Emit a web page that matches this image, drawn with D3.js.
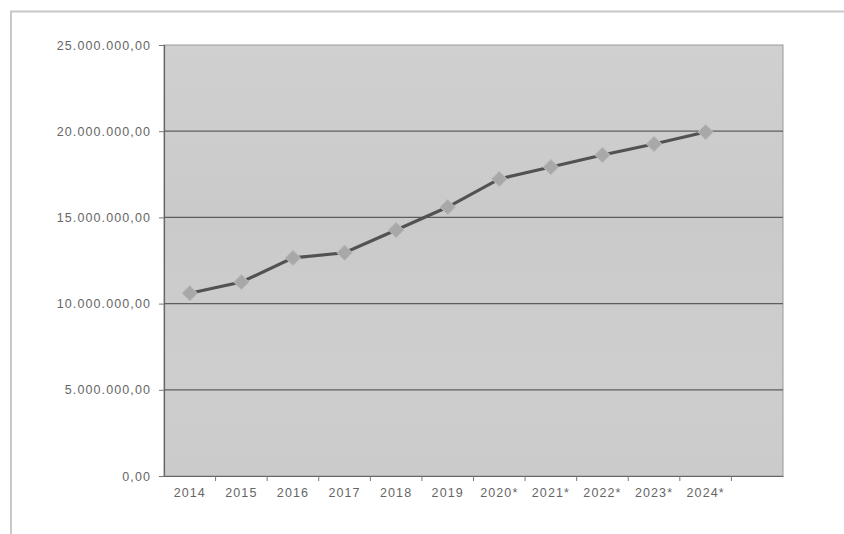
<!DOCTYPE html>
<html>
<head>
<meta charset="utf-8">
<script src="https://cdn.jsdelivr.net/npm/d3@7"></script>
<style>
  body { margin: 0; background: #fff; }
  svg { display: block; }
  .tick text { font-family: Arial, "Liberation Sans", sans-serif; font-size: 12.5px; letter-spacing: 1.1px; fill: #666; }
</style>
</head>
<body>
<svg id="chart" width="844" height="534"></svg>
<script>
const years = ['2014', '2015', '2016', '2017', '2018', '2019', '2020*', '2021*', '2022*', '2023*', '2024*'];
const values = [10600000, 11250000, 12650000, 12950000, 14270000, 15600000, 17230000, 17920000, 18620000, 19260000, 19950000];
const yTicks = [0, 5000000, 10000000, 15000000, 20000000, 25000000];

const width = 844;
const height = 534;
const margin = { top: 45, right: 61, bottom: 58, left: 164 };

const svg = d3.select('#chart');

// outer frame of the scanned chart
svg.append('rect')
  .attr('x', 11)
  .attr('y', 11.5)
  .attr('width', 845)
  .attr('height', 540)
  .attr('fill', '#fff')
  .attr('stroke', '#c8c8c8')
  .attr('stroke-width', 2);

// one empty slot after the last year, as in the original
const slots = years.concat(['']);

const x = d3.scaleBand()
  .domain(slots)
  .range([margin.left, width - margin.right]);

const y = d3.scaleLinear()
  .domain([0, 25000000])
  .range([height - margin.bottom, margin.top]);

const fmt = (v) => d3.format(',.2f')(v).replace(/,/g, '#').replace('.', ',').replace(/#/g, '.');

const defs = svg.append('defs');
const grad = defs.append('linearGradient')
  .attr('id', 'bg')
  .attr('x1', 0).attr('y1', 0).attr('x2', 0).attr('y2', 1);
grad.append('stop').attr('offset', '0%').attr('stop-color', '#d0d0d0');
grad.append('stop').attr('offset', '40%').attr('stop-color', '#cacaca');
grad.append('stop').attr('offset', '75%').attr('stop-color', '#cecece');
grad.append('stop').attr('offset', '100%').attr('stop-color', '#cbcbcb');

svg.append('rect')
  .attr('x', margin.left)
  .attr('y', margin.top)
  .attr('width', width - margin.left - margin.right)
  .attr('height', height - margin.top - margin.bottom)
  .attr('fill', 'url(#bg)')
  .attr('stroke', '#9a9a9a')
  .attr('stroke-width', 1);

// gridlines
svg.append('g')
  .selectAll('line')
  .data(yTicks.slice(1, -1))
  .enter()
  .append('line')
  .attr('x1', margin.left)
  .attr('x2', width - margin.right)
  .attr('y1', (d) => y(d))
  .attr('y2', (d) => y(d))
  .attr('stroke', '#5e5e5e')
  .attr('stroke-width', 1.2);

const yAxis = svg.append('g')
  .attr('transform', `translate(${margin.left},0)`)
  .call(d3.axisLeft(y).tickValues(yTicks).tickFormat(fmt).tickSize(5).tickPadding(8));
yAxis.select('.domain').attr('stroke', '#666').attr('stroke-width', 1.2);
yAxis.selectAll('.tick line').attr('stroke', '#777');

const xAxis = svg.append('g')
  .attr('transform', `translate(0,${height - margin.bottom})`)
  .call(d3.axisBottom(x).tickSize(0).tickPadding(12));
xAxis.select('.domain').attr('stroke', '#666').attr('stroke-width', 1.2);

// ticks between categories
xAxis.selectAll('.sep')
  .data(slots.slice(1))
  .enter()
  .append('line')
  .attr('class', 'sep')
  .attr('x1', (d) => x(d))
  .attr('x2', (d) => x(d))
  .attr('y1', 0)
  .attr('y2', 5)
  .attr('stroke', '#777');

const cx = (d, i) => x(years[i]) + x.bandwidth() / 2;

const line = d3.line()
  .x((d, i) => cx(d, i))
  .y((d) => y(d));

svg.append('path')
  .datum(values)
  .attr('d', line)
  .attr('fill', 'none')
  .attr('stroke', '#525252')
  .attr('stroke-width', 3.2);

svg.append('g')
  .selectAll('path')
  .data(values)
  .enter()
  .append('path')
  .attr('d', d3.symbol().type(d3.symbolDiamond2).size(150))
  .attr('transform', (d, i) => `translate(${cx(d, i)},${y(d)})`)
  .attr('fill', '#a8a8a8')
  .attr('stroke', '#bababa')
  .attr('stroke-width', 1);
</script>
</body>
</html>
